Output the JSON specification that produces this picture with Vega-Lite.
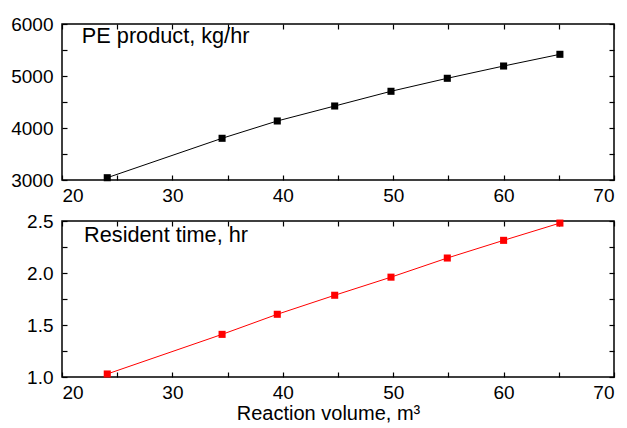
{
  "$schema": "https://vega.github.io/schema/vega-lite/v6.json",
  "padding": {"left": 9, "top": 14, "right": 5, "bottom": 5},
  "background": "white",
  "datasets": {
    "pe": [
      {"volume": 24.1, "pe": 3044},
      {"volume": 34.5, "pe": 3802},
      {"volume": 39.5, "pe": 4135},
      {"volume": 44.7, "pe": 4423},
      {"volume": 49.8, "pe": 4706},
      {"volume": 54.9, "pe": 4956},
      {"volume": 60.0, "pe": 5192},
      {"volume": 65.1, "pe": 5417}
    ],
    "rt": [
      {"volume": 24.1, "time": 1.029},
      {"volume": 34.5, "time": 1.41},
      {"volume": 39.5, "time": 1.603},
      {"volume": 44.7, "time": 1.786},
      {"volume": 49.8, "time": 1.96},
      {"volume": 54.9, "time": 2.144},
      {"volume": 60.0, "time": 2.314},
      {"volume": 65.1, "time": 2.48}
    ],
    "one": [{}]
  },
  "config": {
    "font": "Liberation Sans",
    "view": {"stroke": "black", "strokeWidth": 1.5},
    "axis": {
      "grid": false,
      "domain": false,
      "tickSize": -5,
      "tickColor": "black",
      "tickWidth": 1.2,
      "labelFont": "Liberation Sans",
      "labelFontSize": 19,
      "labelColor": "black",
      "labelPadding": 11,
      "titleFont": "Liberation Sans",
      "titleFontSize": 20,
      "titleFontWeight": "normal",
      "titleColor": "black"
    },
    "axisY": {"labelPadding": 14}
  },
  "spacing": 5,
  "vconcat": [
    {
      "width": 552,
      "height": 156,
      "resolve": {"axis": {"x": "independent", "y": "independent"}},
      "layer": [
        {
          "data": {"name": "pe"},
          "mark": {"type": "line", "color": "black", "strokeWidth": 1},
          "encoding": {
            "x": {"field": "volume", "type": "quantitative", "scale": {"domain": [20, 70], "nice": false},
              "axis": {"orient": "bottom", "title": null, "values": [20,25,30,35,40,45,50,55,60,65,70], "labelExpr": "datum.value % 10 == 0 ? datum.label : ''"}},
            "y": {"field": "pe", "type": "quantitative", "scale": {"domain": [3000, 6000], "nice": false, "zero": false},
              "axis": {"orient": "left", "title": null, "values": [3000,3500,4000,4500,5000,5500,6000], "format": "d", "labelExpr": "datum.value % 1000 == 0 ? datum.label : ''"}}
          }
        },
        {
          "data": {"name": "pe"},
          "mark": {"type": "square", "color": "black", "size": 50, "opacity": 1},
          "encoding": {
            "x": {"field": "volume", "type": "quantitative", "scale": {"domain": [20, 70], "nice": false},
              "axis": {"orient": "top", "title": null, "labels": false, "values": [20,25,30,35,40,45,50,55,60,65,70]}},
            "y": {"field": "pe", "type": "quantitative", "scale": {"domain": [3000, 6000], "nice": false, "zero": false},
              "axis": {"orient": "right", "title": null, "labels": false, "values": [3000,3500,4000,4500,5000,5500,6000]}}
          }
        },
        {
          "data": {"name": "one"},
          "mark": {"type": "text", "text": "PE product, kg/hr", "align": "left", "baseline": "alphabetic", "fontSize": 21.7, "font": "Liberation Sans", "color": "black"},
          "encoding": {
            "x": {"datum": 21.8, "type": "quantitative", "axis": null},
            "y": {"datum": 5640, "type": "quantitative", "axis": null}
          }
        }
      ]
    },
    {
      "width": 552,
      "height": 156,
      "resolve": {"axis": {"x": "independent", "y": "independent"}},
      "layer": [
        {
          "data": {"name": "rt"},
          "mark": {"type": "line", "color": "#ff0000", "strokeWidth": 1},
          "encoding": {
            "x": {"field": "volume", "type": "quantitative", "scale": {"domain": [20, 70], "nice": false},
              "axis": {"orient": "bottom", "title": "Reaction volume, m³", "titlePadding": 1, "titleX": 266, "values": [20,25,30,35,40,45,50,55,60,65,70], "labelExpr": "datum.value % 10 == 0 ? datum.label : ''"}},
            "y": {"field": "time", "type": "quantitative", "scale": {"domain": [1.0, 2.5], "nice": false, "zero": false},
              "axis": {"orient": "left", "title": null, "values": [1.0,1.25,1.5,1.75,2.0,2.25,2.5], "labelExpr": "(datum.value * 2) % 1 == 0 ? format(datum.value, '.1f') : ''"}}
          }
        },
        {
          "data": {"name": "rt"},
          "mark": {"type": "square", "color": "#ff0000", "size": 50, "opacity": 1},
          "encoding": {
            "x": {"field": "volume", "type": "quantitative", "scale": {"domain": [20, 70], "nice": false},
              "axis": {"orient": "top", "title": null, "labels": false, "values": [20,25,30,35,40,45,50,55,60,65,70]}},
            "y": {"field": "time", "type": "quantitative", "scale": {"domain": [1.0, 2.5], "nice": false, "zero": false},
              "axis": {"orient": "right", "title": null, "labels": false, "values": [1.0,1.25,1.5,1.75,2.0,2.25,2.5]}}
          }
        },
        {
          "data": {"name": "one"},
          "mark": {"type": "text", "text": "Resident time, hr", "align": "left", "baseline": "alphabetic", "fontSize": 21.7, "font": "Liberation Sans", "color": "black"},
          "encoding": {
            "x": {"datum": 22.0, "type": "quantitative", "axis": null},
            "y": {"datum": 2.295, "type": "quantitative", "axis": null}
          }
        }
      ]
    }
  ]
}
